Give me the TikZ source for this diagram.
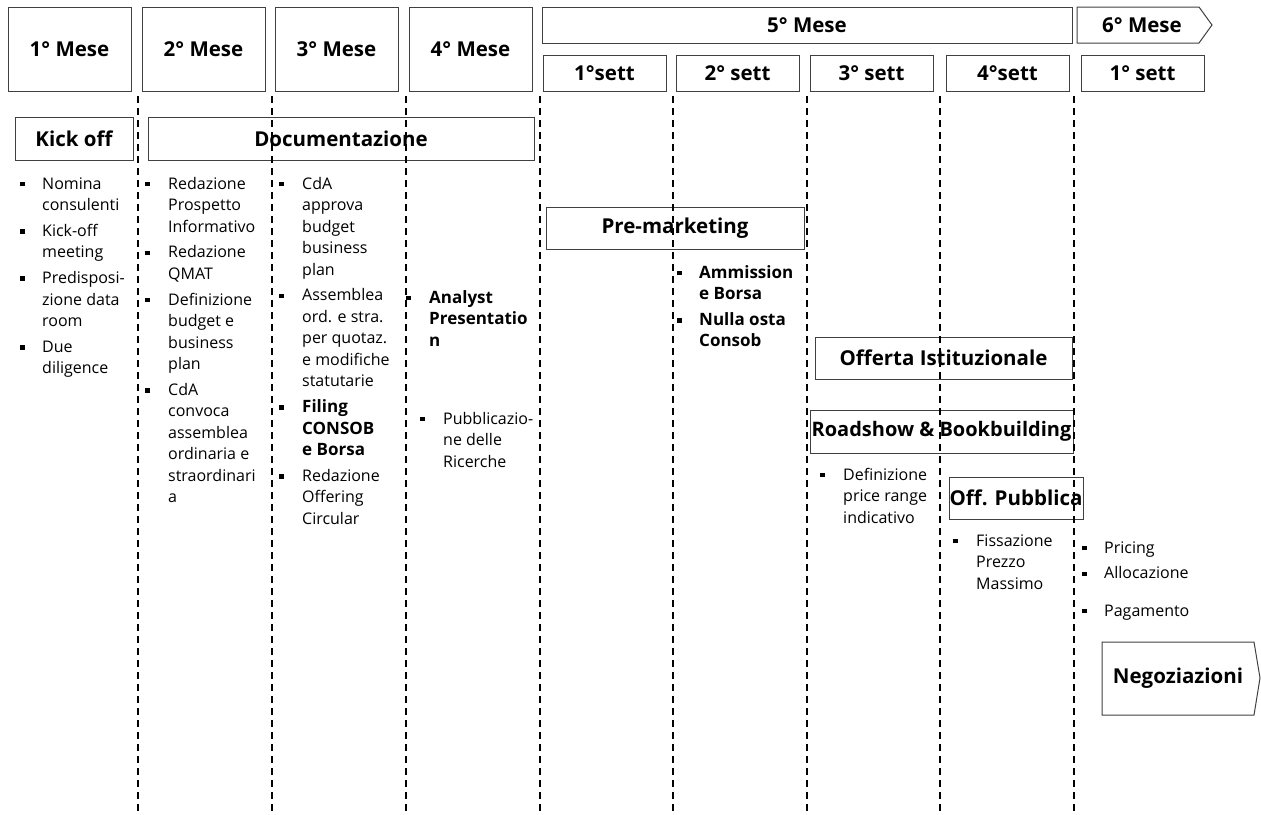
\documentclass[tikz,border=0pt]{standalone}
\usepackage{fontspec}
\setmainfont{Open Sans}
\newcommand\hdrfont{\fontsize{20.5}{23}\selectfont\bfseries}
\newcommand\lstfont{\fontsize{16}{21.5}\selectfont}
\newlength\hw
\newcommand\nl{\newline}
\newcommand\bl[1]{\par\hangindent=\hw\hangafter=1\noindent\makebox[\hw][l]{\raisebox{2.7pt}{\rule{4.5pt}{4.5pt}}}#1\par\vspace{4.3pt}}
\newcommand\bb[1]{{\fontsize{17}{21.5}\selectfont\bfseries #1}}
\newcommand\lst[2]{\vtop{\hsize=300pt\lstfont\parindent=0pt\raggedright\setlength\hw{#1}#2}}
\tikzset{
  bx/.style={draw=black!75, line width=1pt, inner sep=0pt, font=\hdrfont, align=center},
  lbl/.style={inner sep=0pt, font=\hdrfont},
  vline/.style={line width=1.6pt, dash pattern=on 7pt off 5pt},
  lst/.style={anchor=base west, inner sep=0pt},
}
\begin{document}
\begin{tikzpicture}[x=1pt,y=-1pt]
\useasboundingbox (0,0) rectangle (1261,814);
% month header boxes
\node[bx, minimum width=123pt, minimum height=84pt] (m1) at (69.5,49) {1° Mese};
\node[bx, minimum width=123pt, minimum height=84pt] (m2) at (203.5,49) {2° Mese};
\node[bx, minimum width=123pt, minimum height=84pt] (m3) at (336.5,49) {3° Mese};
\node[bx, minimum width=123pt, minimum height=84pt] (m4) at (470.5,49) {4° Mese};
\node[bx, minimum width=530pt, minimum height=36pt] (m5) at (807,25) {5° Mese};
\draw[draw=black!75, line width=1pt] (1077,7) -- (1199,7) -- (1212,25) -- (1199,43) -- (1077,43) -- cycle;
\node[lbl] (m6) at (1142,25) {6° Mese};
% week boxes
\node[bx, minimum width=123pt, minimum height=36pt] (w1) at (604.5,73) {1°sett};
\node[bx, minimum width=123pt, minimum height=36pt] (w2) at (737.5,73) {2° sett};
\node[bx, minimum width=123pt, minimum height=36pt] (w3) at (871.5,73) {3° sett};
\node[bx, minimum width=123pt, minimum height=36pt] (w4) at (1007.5,73) {4°sett};
\node[bx, minimum width=123pt, minimum height=36pt] (w5) at (1142.5,73) {1° sett};
% phase boxes
\node[bx, minimum width=118pt, minimum height=43pt] (kick) at (74,138.5) {Kick off};
\node[bx, minimum width=386pt, minimum height=43pt] (doc) at (341,138.5) {Documentazione};
\node[bx, minimum width=258pt, minimum height=42pt] (pre) at (675,228) {Pre-marketing};
\node[bx, minimum width=257pt, minimum height=42pt] (off) at (943.5,358) {Offerta Istituzionale};
\node[bx, minimum width=263pt, minimum height=43pt, font=\fontsize{20}{23}\selectfont\bfseries] (road) at (941.5,431.5) {Roadshow \& Bookbuilding};
\node[bx, minimum width=134pt, minimum height=42pt] (pub) at (1016,498) {Off. Pubblica};
\draw[draw=black!75, line width=1pt] (1102,642) -- (1254,642) -- (1260,678) -- (1254,715) -- (1102,715) -- cycle;
\node[lbl] (neg) at (1178,678) {Negoziazioni};
% bullet lists
\node[lst] (c1) at (20,189) {\lst{22pt}{\bl{Nomina\nl consulenti}\bl{Kick-off\nl meeting}\bl{Predisposi-\nl zione data\nl room}\bl{Due\nl diligence}}};
\node[lst] (c2) at (145,189) {\lst{23pt}{\bl{Redazione\nl Prospetto\nl Informativo}\bl{Redazione\nl QMAT}\bl{Definizione\nl budget e\nl business\nl plan}\bl{CdA\nl convoca\nl assemblea\nl ordinaria e\nl straordinari\nl a}}};
\node[lst] (c3) at (279,189) {\lst{23pt}{\bl{CdA\nl approva\nl budget\nl business\nl plan}\bl{Assemblea\nl ord. e stra.\nl per quotaz.\nl e modifiche\nl statutarie}\bl{\bb{Filing\nl CONSOB\nl e Borsa}}\bl{Redazione\nl Offering\nl Circular}}};
\node[lst] (c4) at (406,303) {\lst{23pt}{\bl{\bb{Analyst\nl Presentatio\nl n}}}};
\node[lst] (c4b) at (420,424) {\lst{23pt}{\bl{Pubblicazio-\nl ne delle\nl Ricerche}}};
\node[lst] (c5) at (677,278) {\lst{22pt}{\bl{\bb{Ammission\nl e Borsa}}\bl{\bb{Nulla osta\nl Consob}}}};
\node[lst] (c7) at (820,480) {\lst{23pt}{\bl{Definizione\nl price range\nl indicativo}}};
\node[lst] (c8) at (953,546) {\lst{23pt}{\bl{Fissazione\nl Prezzo\nl Massimo}}};
\node[lst] (c9) at (1082,553) {\lst{22pt}{\bl{Pricing}\bl{Allocazione}}};
\node[lst] (c10) at (1082,616) {\lst{22pt}{\bl{Pagamento}}};
% dashed separators
\foreach \i/\x in {1/138,2/272,3/406,4/540,5/673,6/807,7/940,8/1074}{
  \coordinate (t\i) at (\x,96);
  \coordinate (b\i) at (\x,814);
  \draw[vline] (t\i) -- (b\i);
}
\end{tikzpicture}
\end{document}
